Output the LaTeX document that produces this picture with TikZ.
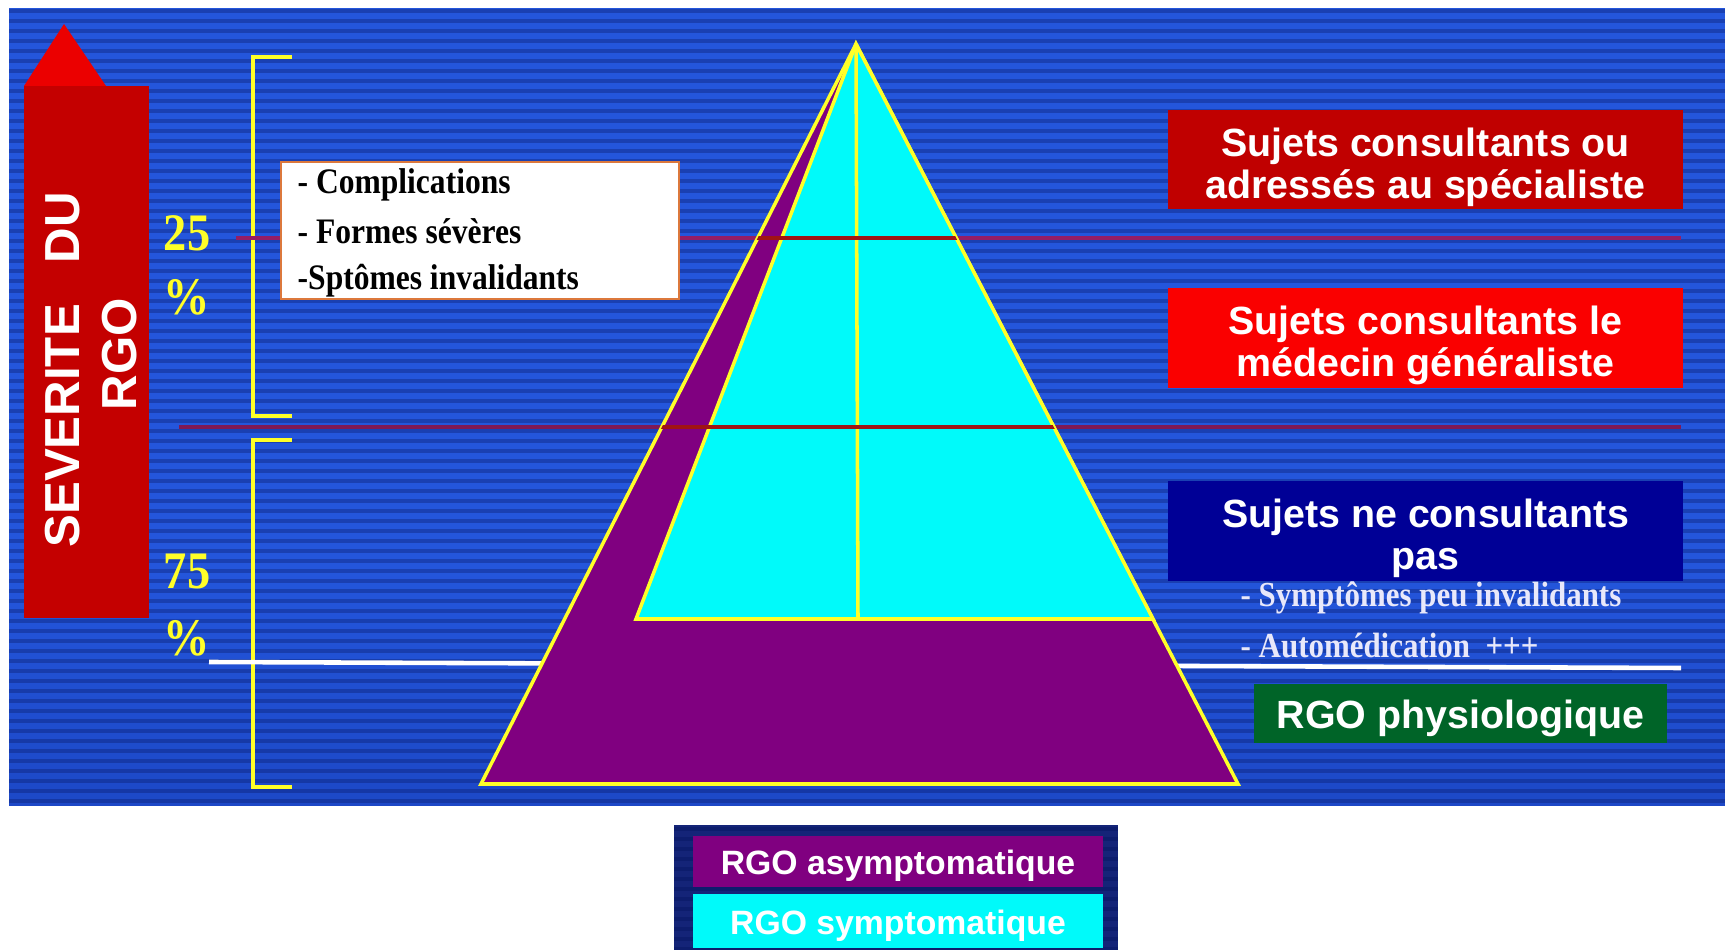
\documentclass[tikz,border=0pt]{standalone}
\usepackage{fontspec}
\setmainfont{Liberation Serif}
\setsansfont{Liberation Sans}
\newfontfamily\narrowserif{Liberation Serif}[FakeStretch=0.88]
\usepackage{xcolor}
\usepackage{tikz}
\usetikzlibrary{positioning, calc}
\definecolor{panelnavy}{RGB}{10,34,125}
\definecolor{panelmid}{RGB}{22,60,180}
\definecolor{panelblue}{RGB}{36,86,220}
\definecolor{stripedark}{RGB}{8,24,100}
\definecolor{legendnavy}{RGB}{20,36,120}
\definecolor{shaftred}{RGB}{196,0,0}
\definecolor{tipred}{RGB}{235,0,0}
\definecolor{pyrpurple}{RGB}{128,0,128}
\definecolor{pyrcyan}{RGB}{0,250,250}
\definecolor{pyryellow}{RGB}{255,255,40}
\definecolor{specred}{RGB}{192,0,0}
\definecolor{genred}{RGB}{250,0,0}
\definecolor{nonblue}{RGB}{0,0,150}
\definecolor{physgreen}{RGB}{0,100,40}
\definecolor{lineplum}{RGB}{150,30,100}
\definecolor{crossred}{RGB}{160,20,20}
\definecolor{boxedge}{RGB}{220,120,60}
\definecolor{softwhite}{RGB}{232,232,250}
\pgfdeclareverticalshading{panelshade}{100bp}{color(0bp)=(panelnavy); color(12bp)=(panelmid); color(40bp)=(panelblue); color(75bp)=(panelblue); color(90bp)=(panelmid); color(100bp)=(panelnavy)}
\tikzset{
  catbox/.style={minimum width=51.5mm, inner sep=0pt},
  cattext/.style={text=white, font=\sffamily\bfseries\fontsize{11.2}{11.9}\selectfont,
    align=center, inner sep=0pt},
  legbar/.style={minimum width=41mm, inner sep=0pt},
  legtext/.style={text=white, font=\sffamily\bfseries\fontsize{9.6}{11}\selectfont, inner sep=0pt},
  pct/.style={text=pyryellow, font=\narrowserif\bfseries\fontsize{15}{17}\selectfont, inner sep=0pt},
  signtext/.style={text=black, font=\narrowserif\bfseries\fontsize{10.2}{12}\selectfont, inner sep=0pt},
  softtext/.style={text=softwhite, font=\narrowserif\bfseries\fontsize{10}{12}\selectfont, inner sep=0pt},
  bracket/.style={pyryellow, line width=1.2pt},
  pyrline/.style={draw=pyryellow, line width=1pt},
}
\begin{document}
\begin{tikzpicture}[x=0.1mm, y=-0.1mm]
  \useasboundingbox (0,0) rectangle (1725,950);
  \fill[white] (0,0) rectangle (1725,950);
  % striped blue panel
  \shade[shading=panelshade] (9,9) rectangle (1725,806);
  \foreach \y in {9,19,...,799} \fill[stripedark, opacity=0.35] (9,\y) rectangle (1725,\y+4);

  % severity arrow
  \fill[shaftred] (24,86) rectangle (149,618);
  \fill[tipred] (24,86) -- (64,24) -- (106,86) -- cycle;
  \node[rotate=90, text=white, font=\sffamily\bfseries\fontsize{14}{16}\selectfont, align=center]
    (sev) at (91,354) {SEVERITE\ \ \ DU\hspace{9pt}\null\\RGO};

  % shares
  \node[pct] (p25) at (187,233) {25};
  \node[pct] (p25s) at (187,297) {\%};
  \node[pct] (p75) at (187,572) {75};
  \node[pct] (p75s) at (187,638) {\%};
  \draw[bracket] (292,57) -- (253,57) -- (253,416) -- (292,416);
  \draw[bracket] (292,440) -- (253,440) -- (253,787) -- (292,787);

  % level lines
  \draw[lineplum, line width=1.1pt] (236,238) -- (1681,238);
  \draw[lineplum!85!black, line width=1.1pt] (179,427) -- (1681,427);
  \draw[white, line width=1.3pt] (209,662) -- (1681,668);

  % pyramid
  \coordinate (apex) at (856,44);
  \coordinate (bl) at (481,784);
  \coordinate (br) at (1238,784);
  \coordinate (cl) at (636,619);
  \coordinate (cr) at (1153,619);
  \filldraw[pyrline, fill=pyrpurple] (apex) -- (bl) -- (br) -- cycle;
  \filldraw[pyrline, fill=pyrcyan] (apex) -- (cl) -- (cr) -- cycle;
  \draw[pyrline] (apex) -- (858,619);
  \begin{scope}
    \clip (apex) -- (bl) -- (br) -- cycle;
    \draw[crossred, line width=1pt] (400,238) -- (1300,238);
    \draw[crossred, line width=1pt] (400,427) -- (1300,427);
  \end{scope}

  % signs of the severe forms
  \node[draw=boxedge, fill=white, line width=0.6pt, minimum width=39.8mm, minimum height=13.7mm]
    (signs) at (480,230.5) {};
  \node[signtext, anchor=west] (compl) at (297,185) {- Complications};
  \node[signtext, anchor=west] (formes) at (297,231) {- Formes sévères};
  \node[signtext, anchor=west] (invalid) at (297,281) {-Sptômes invalidants};

  % categories
  \node[catbox, fill=specred, minimum height=9.9mm] (spec) at (1425.5,159.5) {};
  \node[cattext, yshift=-0.75mm] (spectext) at (spec) {Sujets consultants ou\\adressés au spécialiste};
  \node[catbox, fill=genred, minimum height=10mm] (gen) at (1425.5,338) {};
  \node[cattext, yshift=-0.75mm] (gentext) at (gen) {Sujets consultants le\\médecin généraliste};
  \node[catbox, fill=nonblue, minimum height=10mm] (none) at (1425.5,531) {};
  \node[cattext, yshift=-0.7mm] (nonetext) at (none) {Sujets ne consultants\\pas};
  \node[softtext, anchor=west] (sympt) at (1240,598) {- Symptômes peu invalidants};
  \node[softtext, anchor=west] (auto) at (1240,646) {- Automédication\ \ +++};
  \node[catbox, fill=physgreen, minimum width=41.3mm, minimum height=5.9mm] (phys) at (1460.5,713.5) {};
  \node[cattext, yshift=-0.5mm] (phystext) at (phys) {RGO physiologique};

  % legend
  \fill[legendnavy] (674,825) rectangle (1118,950);
  \foreach \y in {827,837,...,947} \fill[stripedark, opacity=0.5] (674,\y) rectangle (1118,\y+4);
  \node[legbar, fill=pyrpurple, minimum height=5.1mm] (asym) at (898,861.5) {};
  \node[legtext, yshift=-0.45mm] (asymtext) at (asym) {RGO asymptomatique};
  \node[legbar, fill=pyrcyan, minimum height=5.4mm] (sym) at (898,921) {};
  \node[legtext, yshift=-0.45mm] (symtext) at (sym) {RGO symptomatique};
\end{tikzpicture}
\end{document}
